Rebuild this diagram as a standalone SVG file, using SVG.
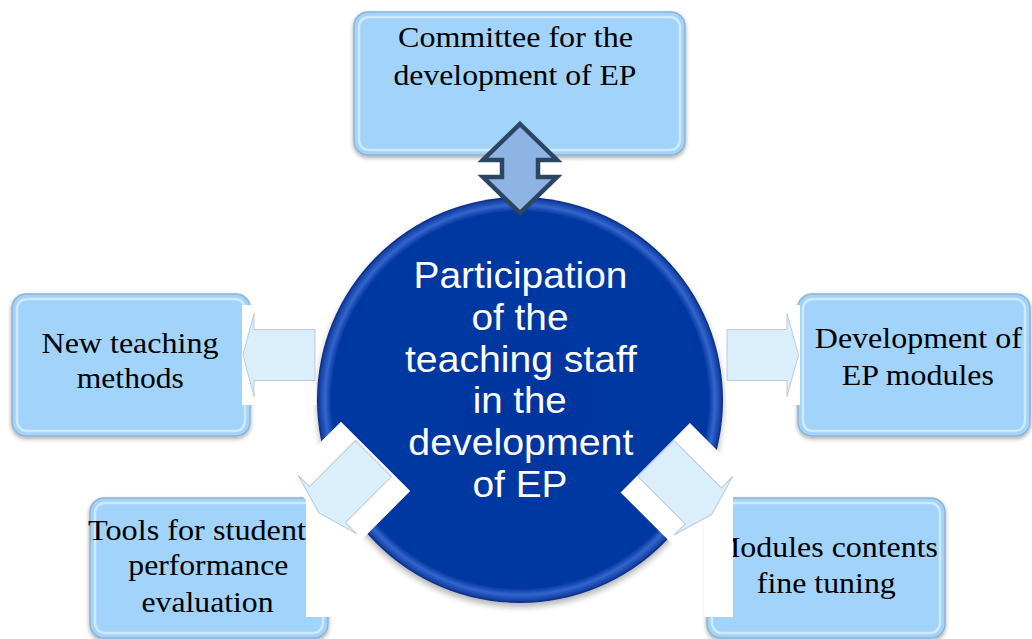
<svg xmlns="http://www.w3.org/2000/svg" width="1032" height="639" viewBox="0 0 1032 639">
<defs>
<filter id="sh" x="-10%" y="-10%" width="120%" height="130%">
<feGaussianBlur in="SourceAlpha" stdDeviation="2"/>
<feOffset dy="2" result="o"/>
<feComponentTransfer in="o" result="s"><feFuncA type="linear" slope="0.35"/></feComponentTransfer>
<feMerge><feMergeNode in="s"/><feMergeNode in="SourceGraphic"/></feMerge>
</filter>
<filter id="csh" x="-10%" y="-10%" width="120%" height="125%">
<feGaussianBlur in="SourceAlpha" stdDeviation="3"/>
<feOffset dy="4" result="o"/>
<feComponentTransfer in="o" result="s"><feFuncA type="linear" slope="0.3"/></feComponentTransfer>
<feMerge><feMergeNode in="s"/><feMergeNode in="SourceGraphic"/></feMerge>
</filter>
<radialGradient id="cg" cx="0.5" cy="0.5" r="0.5">
<stop offset="0" stop-color="#0336A0"/>
<stop offset="0.93" stop-color="#0538A2"/>
<stop offset="0.96" stop-color="#3366CC"/>
<stop offset="0.985" stop-color="#1846AE"/>
<stop offset="1" stop-color="#0B2A7A"/>
</radialGradient>
<style>
.box{fill:#A2D3FA;stroke:#8FB3D3;stroke-width:1.5}
.bev{fill:none;stroke:#DDF0FF;stroke-width:2.5;opacity:.75}
.lbl{font-family:"Liberation Serif","Times New Roman",serif;font-size:30px;fill:#000;text-anchor:middle}
.ctr{font-family:"Liberation Sans",Arial,sans-serif;font-size:36px;fill:#fff;text-anchor:middle}
.blk{fill:#DAEEFB;stroke:#BCCBD6;stroke-width:1}
.wh{fill:#fff}
</style>
</defs>
<rect width="1032" height="639" fill="#fff"/>

<g id="node-committee">
<rect class="box" x="354" y="12" width="331" height="143" rx="14" filter="url(#sh)"/>
<rect class="bev" x="359" y="17" width="321" height="133" rx="10"/>
<text class="lbl" x="515.5" y="46.7" textLength="235" lengthAdjust="spacingAndGlyphs">Committee for the</text>
<text class="lbl" x="515" y="85" textLength="243" lengthAdjust="spacingAndGlyphs">development of EP</text>
</g>

<g id="node-teaching-methods">
<rect class="box" x="12" y="294" width="238" height="142" rx="14" filter="url(#sh)"/>
<rect class="bev" x="17" y="299" width="228" height="132" rx="10"/>
<text class="lbl" x="130" y="352.7" textLength="177" lengthAdjust="spacingAndGlyphs">New teaching</text>
<text class="lbl" x="130.3" y="388.3" textLength="107" lengthAdjust="spacingAndGlyphs">methods</text>
</g>

<g id="node-ep-modules">
<rect class="box" x="798" y="294" width="232" height="142" rx="14" filter="url(#sh)"/>
<rect class="bev" x="803" y="299" width="222" height="132" rx="10"/>
<text class="lbl" x="918.3" y="348.3" textLength="207" lengthAdjust="spacingAndGlyphs">Development of</text>
<text class="lbl" x="917.8" y="385" textLength="152" lengthAdjust="spacingAndGlyphs">EP modules</text>
</g>

<g id="node-tools">
<rect class="box" x="90" y="498" width="238" height="140" rx="14" filter="url(#sh)"/>
<rect class="bev" x="95" y="503" width="228" height="130" rx="10"/>
<text class="lbl" x="197" y="540" textLength="218" lengthAdjust="spacingAndGlyphs">Tools for student</text>
<text class="lbl" x="208.3" y="575" textLength="160" lengthAdjust="spacingAndGlyphs">performance</text>
<text class="lbl" x="207.5" y="611.7" textLength="132" lengthAdjust="spacingAndGlyphs">evaluation</text>
</g>

<g id="node-fine-tuning">
<rect class="box" x="707" y="498" width="238" height="140" rx="14" filter="url(#sh)"/>
<rect class="bev" x="712" y="503" width="228" height="130" rx="10"/>
<text class="lbl" x="825" y="556.7" textLength="226" lengthAdjust="spacingAndGlyphs">Modules contents</text>
<text class="lbl" x="826.3" y="593.3" textLength="139" lengthAdjust="spacingAndGlyphs">fine tuning</text>
</g>

<g id="node-center">
<circle cx="520" cy="400" r="203" fill="url(#cg)" filter="url(#csh)"/>
<text class="ctr" x="520.5" y="288.3" textLength="214" lengthAdjust="spacingAndGlyphs">Participation</text>
<text class="ctr" x="520" y="330" textLength="97" lengthAdjust="spacingAndGlyphs">of the</text>
<text class="ctr" x="521" y="371.5" textLength="232" lengthAdjust="spacingAndGlyphs">teaching staff</text>
<text class="ctr" x="519.7" y="413" textLength="94" lengthAdjust="spacingAndGlyphs">in the</text>
<text class="ctr" x="520.8" y="455" textLength="225" lengthAdjust="spacingAndGlyphs">development</text>
<text class="ctr" x="520" y="496.5" textLength="95" lengthAdjust="spacingAndGlyphs">of EP</text>
</g>

<g id="connectors">
<g id="frames">
<rect class="wh" x="242" y="305" width="74" height="100"/>
<rect class="wh" x="726" y="305" width="74" height="100"/>
<rect class="wh" x="306" y="490" width="26" height="127"/>
<rect class="wh" x="704" y="490" width="29" height="127"/>
<rect class="wh" transform="translate(319 513) rotate(-45)" x="0" y="-49" width="80" height="98"/>
<rect class="wh" transform="translate(711.8 514.3) rotate(45)" x="-80" y="-49" width="80" height="98"/>
</g>
<polygon class="blk" points="243,355 254,313.5 254,329.5 315,329.5 315,380.5 254,380.5 254,396.5"/>
<polygon class="blk" points="798.5,355 787,313.5 787,329.5 727,329.5 727,380.5 787,380.5 787,396.5"/>
<polygon class="blk" transform="translate(319 513) rotate(-45)" points="0,0 12,-41.5 12,-25.5 77,-25.5 77,25.5 12,25.5 12,41.5"/>
<polygon class="blk" transform="translate(711.8 514.3) rotate(45)" points="0,0 -12,-41.5 -12,-25.5 -79,-25.5 -79,25.5 -12,25.5 -12,41.5"/>
<polygon points="520,124 557,160 538,160 538,177 557,177 520,213 483,177 502,177 502,160 483,160" fill="#8EB4E3" stroke="#2B4563" stroke-width="4.5" stroke-linejoin="miter"/>
</g>
</svg>
